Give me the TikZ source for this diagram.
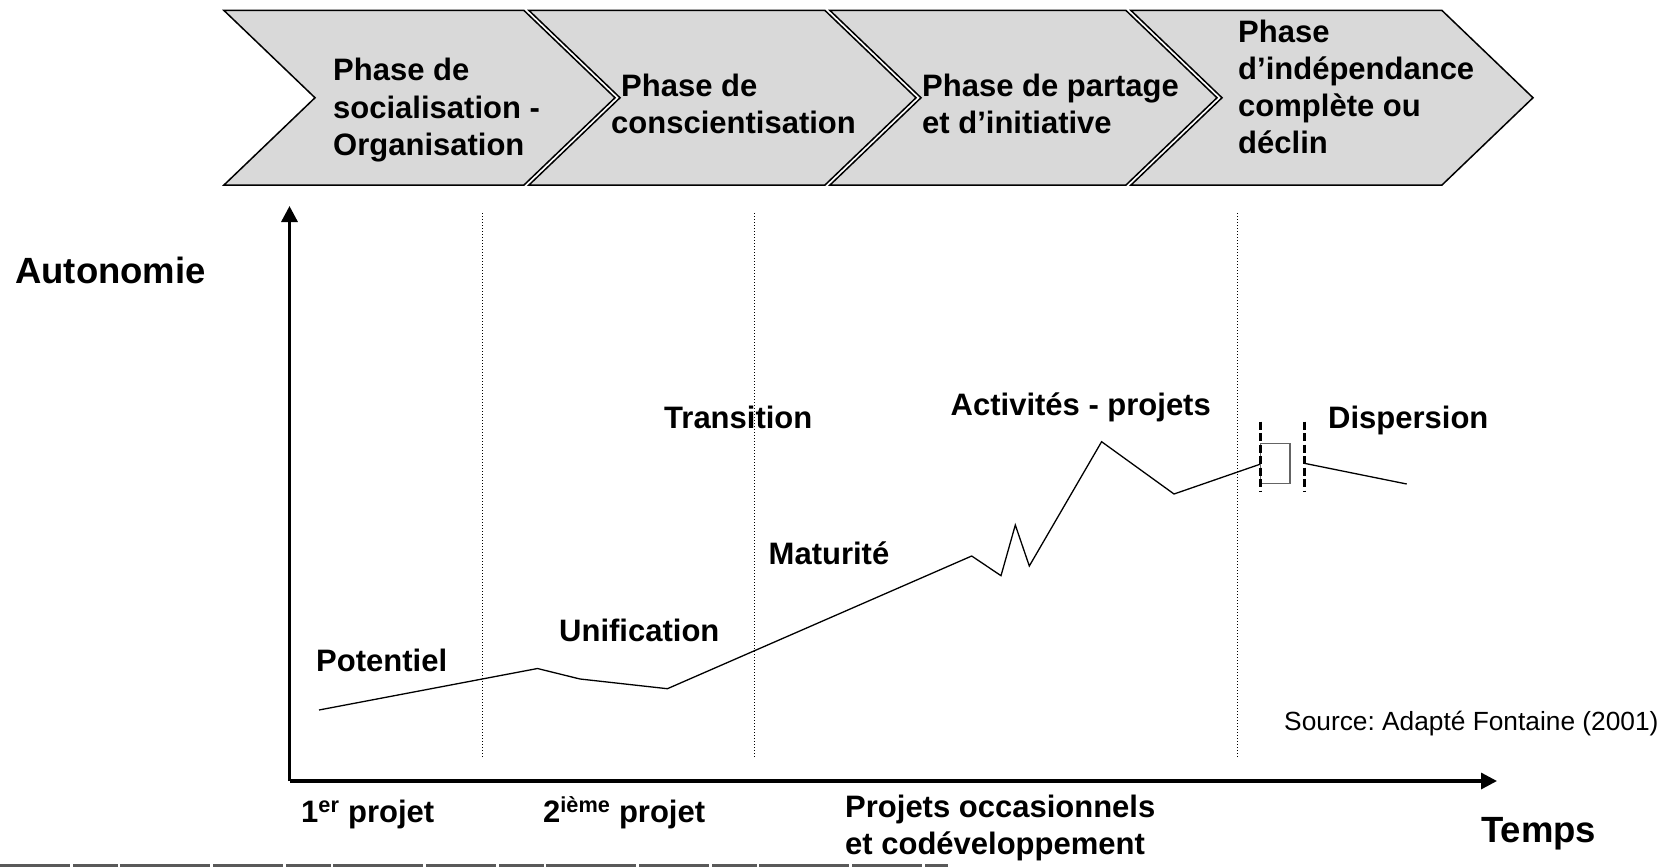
\documentclass[tikz,border=0pt]{standalone}
\usepackage{fontspec}
\setmainfont{Liberation Sans}
\usetikzlibrary{arrows.meta}
\definecolor{chevfill}{RGB}{217,217,217}
\definecolor{boxgray}{RGB}{100,100,100}
\newcommand{\stacklines}[1]{\begin{tabular}[t]{@{}l@{}}#1\end{tabular}}
\frenchspacing
\begin{document}
\begin{tikzpicture}[x=1pt,y=-1pt,
  chevron/.style={draw=black,line width=1.5pt,fill=chevfill,line join=miter},
  phasetext/.style={anchor=base west,inner sep=0pt,font=\bfseries\fontsize{31}{37}\selectfont},
  lbl/.style={anchor=base west,inner sep=0pt,font=\bfseries\fontsize{31}{37}\selectfont},
  biglbl/.style={anchor=base west,inner sep=0pt,font=\bfseries\fontsize{36.5}{42}\selectfont},
  axisline/.style={line width=3.3pt,-{Triangle[length=16pt,width=16pt]}},
  sep/.style={line width=1pt,dash pattern=on 1.2pt off 1.8pt},
  curve/.style={line width=1.3pt,line join=miter},
  breakmark/.style={line width=3pt,dash pattern=on 8pt off 3.5pt}]
\useasboundingbox (0,0) rectangle (1669,867);

% phase chevrons
\draw[chevron] (224,10.5) -- (524,10.5) -- (615,97.75) -- (524,185) -- (224,185) -- (315,97.75) -- cycle;
\draw[chevron] (529,10.5) -- (825,10.5) -- (916,97.75) -- (825,185) -- (529,185) -- (620,97.75) -- cycle;
\draw[chevron] (830,10.5) -- (1126,10.5) -- (1217,97.75) -- (1126,185) -- (830,185) -- (921,97.75) -- cycle;
\draw[chevron] (1131,10.5) -- (1442,10.5) -- (1533,97.75) -- (1442,185) -- (1131,185) -- (1222,97.75) -- cycle;

\node[phasetext] (p1) at (333,81) {\stacklines{Phase de\\socialisation -\\Organisation}};
\node[phasetext] (p2a) at (621,96) {Phase de};
\node[phasetext] (p2b) at (611,133.5) {conscientisation};
\node[phasetext] (p3) at (922,96) {\stacklines{Phase de partage\\et d’initiative}};
\node[phasetext] (p4) at (1238,42) {\stacklines{Phase\\d’indépendance\\complète ou\\déclin}};

% separators between phases
\coordinate (s1t) at (482,213); \coordinate (s1b) at (482,758);
\coordinate (s2t) at (754,213); \coordinate (s2b) at (754,758);
\coordinate (s3t) at (1237,213); \coordinate (s3b) at (1237,758);
\draw[sep] (s1t) -- (s1b);
\draw[sep] (s2t) -- (s2b);
\draw[sep] (s3t) -- (s3b);

% axes
\coordinate (O) at (289.5,781);
\coordinate (ytop) at (289.5,206);
\coordinate (xend) at (1497,781);
\draw[axisline] (O) -- (ytop);
\draw[axisline] (O) -- (xend);

% autonomy curve
\draw[curve] (319,710) -- (537.5,668.5) -- (580,679) -- (667.4,688.7) -- (971.7,556)
  -- (1001,575.7) -- (1015.3,525) -- (1029.3,566) -- (1101.6,441.7) -- (1174,494) -- (1260.7,464);
\draw[curve] (1304.3,463.3) -- (1406.7,484);

% break in the curve
\draw[boxgray,line width=1.2pt] (1260.7,443.3) rectangle (1290,483.3);
\draw[breakmark] (1260.7,421.7) -- (1260.7,491.7);
\draw[breakmark] (1304.3,421.7) -- (1304.3,491.7);

% stage labels
\node[biglbl] (autonomie) at (15,283) {Autonomie};
\node[biglbl] (temps) at (1481,842) {Temps};
\node[lbl] (potentiel) at (316,671) {Potentiel};
\node[lbl] (unification) at (559,641) {Unification};
\node[lbl] (transition) at (664,428) {Transition};
\node[lbl] (maturite) at (768.5,564.5) {Maturité};
\node[lbl] (activites) at (950.5,415.5) {Activités - projets};
\node[lbl] (dispersion) at (1328,428) {Dispersion};

% project labels under the time axis
\node[lbl] (proj1) at (301,822) {1\textsuperscript{er} projet};
\node[lbl] (proj2) at (543,822) {2\textsuperscript{ième} projet};
\node[lbl] (proj3) at (845,817) {\stacklines{Projets occasionnels\\et codéveloppement}};

\node[anchor=base west,inner sep=0pt,font=\fontsize{26.3}{30}\selectfont] (source) at (1284,730) {Source: Adapté Fontaine (2001)};

% scanned edge at the bottom
\draw[black!65,line width=3pt,dash pattern=on 70pt off 3pt on 45pt off 2pt on 90pt off 3pt] (0,865.5) -- (948,865.5);
\end{tikzpicture}
\end{document}
